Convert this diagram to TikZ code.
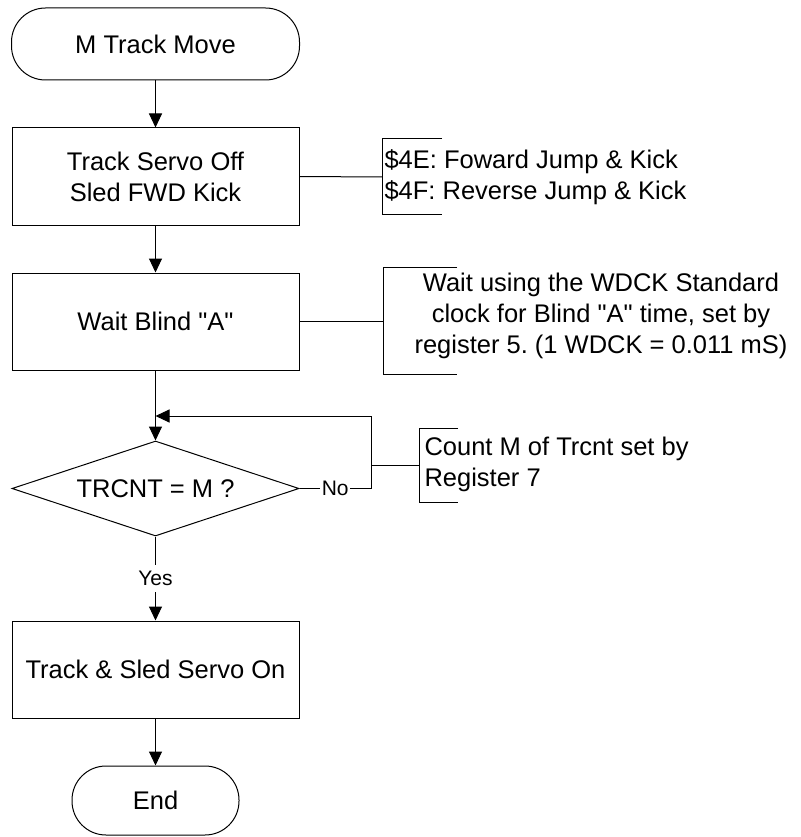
\documentclass[tikz,border=0pt]{standalone}
\usepackage{fontspec}
\setmainfont{Liberation Sans}[Ligatures=TeXOff]
\usetikzlibrary{arrows.meta,shapes.geometric}
\frenchspacing
\begin{document}
\begin{tikzpicture}[x=1pt,y=-1pt,line width=1pt,
  every node/.style={font=\fontsize{25.5}{31}\selectfont},
  terminal/.style={draw,rectangle,rounded corners=34pt,inner sep=0pt},
  procbox/.style={draw,rectangle,minimum width=287pt,minimum height=97pt,inner sep=0pt,align=center},
  decision/.style={draw,diamond,aspect=3,inner sep=0pt,minimum width=287pt,minimum height=95pt},
  arr/.style={-{Triangle[length=14pt,width=13pt]}},
  lbl/.style={font=\fontsize{21}{24}\selectfont,fill=white,inner sep=1.5pt},
  note/.style={inner sep=0pt}]
\useasboundingbox (0,0) rectangle (800,837);

\node[terminal,minimum width=288pt,minimum height=72pt] (start) at (155.5,44) {M Track Move};
\node[procbox] (b1) at (155.5,176.5) {Track Servo Off\\Sled FWD Kick};
\node[procbox] (b2) at (155.5,321.5) {Wait Blind "A"};
\node[decision] (d) at (155.5,488.5) {TRCNT = M ?};
\node[procbox] (b3) at (155.5,669.5) {Track \& Sled Servo On};
\node[terminal,minimum width=167pt,minimum height=69pt] (end) at (155.5,800.5) {End};

\coordinate (join) at (155.5,416);
\coordinate (loopR) at (371,488.5);
\coordinate (loopT) at (371,416);
\coordinate (tap3) at (371,465);

% annotation brackets
\coordinate (n1) at (382,177);
\coordinate (n2) at (383,321.5);
\coordinate (n3) at (419,465);
\draw (442,139) -- (382,139) -- (382,214) -- (442,214);
\draw (457,267) -- (383,267) -- (383,374) -- (457,374);
\draw (458,428) -- (419,428) -- (419,502) -- (458,502);
\node[note,anchor=west,align=left] (t1) at (384,177) {\$4E: Foward Jump \& Kick\\\$4F: Reverse Jump \& Kick};
\node[note,align=center] (t2) at (601,316) {Wait using the WDCK Standard\\clock for Blind "A" time, set by\\register 5. (1 WDCK = 0.011 mS)};
\node[note,anchor=west,align=left] (t3) at (424,464) {Count M of Trcnt set by\\Register 7};

% main flow
\draw[arr] (start) -- (b1);
\draw[arr] (b1) -- (b2);
\draw[arr] (b2) -- (d);
\draw[arr] (d.south) -- node[lbl,inner sep=6pt]{Yes} (b3.north);
\draw[arr] (b3) -- (end);

% no loop
\draw[arr] (d.east) -- node[lbl]{No} (loopR) -- (loopT) -- (join);
\draw (tap3) -- (n3);

% annotation connectors
\draw (b1.east) -- (n1);
\draw (b2.east) -- (n2);
\end{tikzpicture}
\end{document}
